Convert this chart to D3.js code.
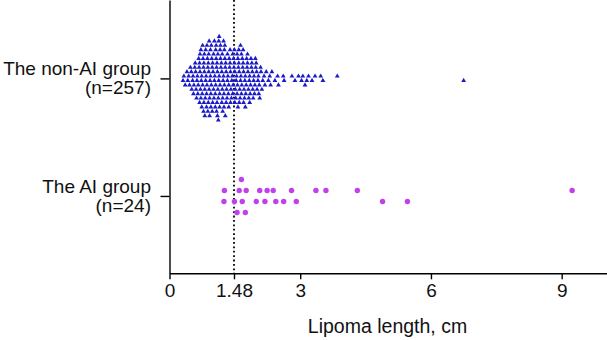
<!DOCTYPE html>
<html>
<head>
<meta charset="utf-8">
<script src="https://cdn.jsdelivr.net/npm/d3@7/dist/d3.min.js"></script>
<style>
  body { margin: 0; background: #fff; }
  svg { display: block; font-family: "Liberation Sans", Arial, Helvetica, sans-serif; }
</style>
</head>
<body>
<div id="chart"></div>
<script>
// Lipoma length (cm), non-AI group, n=257
var nonAiValues = [
  0.31, 0.33, 0.36,
  0.40, 0.42, 0.44, 0.46, 0.48,
  0.50, 0.51, 0.53, 0.54, 0.55, 0.56, 0.58, 0.59,
  0.60, 0.61, 0.62, 0.63, 0.64, 0.65, 0.66, 0.67, 0.68, 0.69, 0.69,
  0.70, 0.70, 0.71, 0.72, 0.72, 0.73, 0.74, 0.74, 0.75, 0.76, 0.76, 0.77, 0.78, 0.78, 0.79, 0.79,
  0.80, 0.80, 0.81, 0.81, 0.82, 0.83, 0.83, 0.84, 0.85, 0.85, 0.86, 0.86, 0.87, 0.88, 0.88, 0.89, 0.89,
  0.90, 0.90, 0.91, 0.91, 0.92, 0.92, 0.93, 0.94, 0.94, 0.95, 0.95, 0.96, 0.96, 0.97, 0.98, 0.98, 0.99, 0.99,
  1.00, 1.01, 1.01, 1.02, 1.03, 1.03, 1.04, 1.05, 1.05, 1.06, 1.06, 1.07, 1.07, 1.08, 1.08, 1.09, 1.09,
  1.10, 1.10, 1.11, 1.11, 1.12, 1.12, 1.13, 1.13, 1.14, 1.14, 1.15, 1.15, 1.16, 1.16, 1.17, 1.17, 1.18, 1.19,
  1.20, 1.20, 1.21, 1.21, 1.22, 1.22, 1.23, 1.24, 1.24, 1.25, 1.25, 1.26, 1.26, 1.27, 1.27, 1.28, 1.28, 1.29,
  1.30, 1.30, 1.31, 1.32, 1.33, 1.33, 1.34, 1.35, 1.36, 1.36, 1.37, 1.38, 1.39, 1.39,
  1.40, 1.40, 1.41, 1.42, 1.43, 1.44, 1.45, 1.45, 1.46, 1.47, 1.48, 1.49, 1.49,
  1.50, 1.50, 1.51, 1.52, 1.53, 1.54, 1.55, 1.55, 1.56, 1.57, 1.57, 1.58, 1.59, 1.59,
  1.60, 1.60, 1.61, 1.62, 1.63, 1.63, 1.64, 1.65, 1.65, 1.66, 1.67, 1.68, 1.69, 1.69,
  1.70, 1.70, 1.71, 1.72, 1.73, 1.74, 1.74, 1.75, 1.76, 1.77, 1.78, 1.79, 1.79,
  1.80, 1.81, 1.82, 1.83, 1.84, 1.84, 1.85, 1.86, 1.87, 1.88, 1.89,
  1.90, 1.91, 1.92, 1.93, 1.94, 1.95, 1.96, 1.97, 1.98, 1.99,
  2.00, 2.01, 2.03, 2.04, 2.05, 2.06, 2.07, 2.09,
  2.10, 2.12, 2.14, 2.17,
  2.19, 2.22, 2.27, 2.30, 2.32, 2.35, 2.42, 2.48, 2.50, 2.61, 2.63, 2.81, 2.88,
  2.96, 3.03, 3.06, 3.11, 3.15, 3.19, 3.27, 3.34, 3.47, 3.52, 3.85, 6.75
]

// Lipoma length (cm), AI group, n=24 (in recorded order)
var aiValues = [
  1.25, 1.60, 1.49, 1.76, 1.67, 2.07, 1.99, 2.24, 2.19, 2.38, 2.44, 2.80,
  2.62, 3.36, 2.91, 3.59, 4.89, 4.31, 5.46, 9.24, 1.55, 1.65, 1.74, 1.26
]

var groupNames = [["The AI group", "(n=24)"], ["The non-AI group", "(n=257)"]]
var xTicks = [0, 1.48, 3, 6, 9]
var xTickLabels = ["0", "1.48", "3", "6", "9"]
var cutoff = 1.48
var xTitle = "Lipoma length, cm"

var width = 607, height = 340
var margin = { top: 0, right: 0, bottom: 67, left: 169.5 }

var svg = d3.select("#chart").append("svg")
  .attr("width", width)
  .attr("height", height)

var x = d3.scaleLinear()
  .domain([0, 10.04])
  .range([margin.left, width - margin.right])

var y = d3.scaleLinear()
  .domain([-0.658, 1.667])
  .range([height - margin.bottom + 0.3, margin.top])

// simple row beeswarm: each point goes to the nearest free row
function swarm(values, cy, step, minDx) {
  var placed = []
  return values.map(function(v, i) {
    var px = x(v)
    var s = i % 2 === 0 ? 1 : -1
    for (var k = 0; k < 60; k++) {
      var sides = [s, -s]
      for (var j = 0; j < 2; j++) {
        var off = sides[j] * (k + 0.5)
        var hit = placed.some(function(p) { return p.off === off && Math.abs(p.x - px) < minDx })
        if (!hit) {
          placed.push({ x: px, off: off })
          return { v: v, x: px, y: cy + off * step }
        }
      }
    }
  })
}

// cutoff line
svg.append("line")
  .attr("x1", x(cutoff)).attr("x2", x(cutoff))
  .attr("y1", y.range()[1]).attr("y2", y.range()[0])
  .attr("stroke", "#000")
  .attr("stroke-width", 1.8)
  .attr("stroke-dasharray", "1.8,2.6")

// non-AI triangles
var nonAiPts = swarm(nonAiValues, y(1), 4.4, 4.0)
svg.append("g")
  .selectAll("path")
  .data(nonAiPts)
  .enter()
  .append("path")
    .attr("d", d3.symbol().type(d3.symbolTriangle).size(10))
    .attr("transform", function(d) { return "translate(" + d.x + "," + d.y + ")" })
    .attr("fill", "#1a1ac8")

// AI circles
var aiPts = swarm(aiValues, y(0), 11, 5.5)
svg.append("g")
  .selectAll("circle")
  .data(aiPts)
  .enter()
  .append("circle")
    .attr("cx", function(d) { return d.x })
    .attr("cy", function(d) { return d.y })
    .attr("r", 2.7)
    .attr("fill", "#c040ec")

// X axis
var xAxis = svg.append("g")
  .attr("transform", "translate(0," + y.range()[0] + ")")
  .call(d3.axisBottom(x)
    .tickValues(xTicks)
    .tickFormat(function(d, i) { return xTickLabels[i] })
    .tickSize(6)
    .tickPadding(4)
    .tickSizeOuter(0))
xAxis.selectAll("text").style("font-size", "19px").attr("fill", "#111")
xAxis.selectAll("line, path").attr("stroke", "#000").attr("stroke-width", 1.4)

svg.append("text")
  .attr("x", 387.5)
  .attr("y", 332.5)
  .attr("text-anchor", "middle")
  .style("font-size", "19.5px")
  .attr("fill", "#111")
  .text(xTitle)

// Y axis
var yAxis = svg.append("g")
  .attr("transform", "translate(" + margin.left + ",0)")
  .call(d3.axisLeft(y)
    .tickValues([0, 1])
    .tickFormat("")
    .tickSize(9)
    .tickSizeOuter(0))
yAxis.selectAll("line, path").attr("stroke", "#000").attr("stroke-width", 1.4)

var yLabel = svg.append("g")
  .selectAll("text")
  .data([0, 1])
  .enter()
  .append("text")
    .attr("text-anchor", "end")
    .style("font-size", "19px")
    .attr("fill", "#111")
yLabel.append("tspan")
  .attr("x", 151)
  .attr("y", function(d) { return y(d) - 3 })
  .text(function(d) { return groupNames[d][0] })
yLabel.append("tspan")
  .attr("x", 151)
  .attr("y", function(d) { return y(d) + 16 })
  .text(function(d) { return groupNames[d][1] })
</script>
</body>
</html>
